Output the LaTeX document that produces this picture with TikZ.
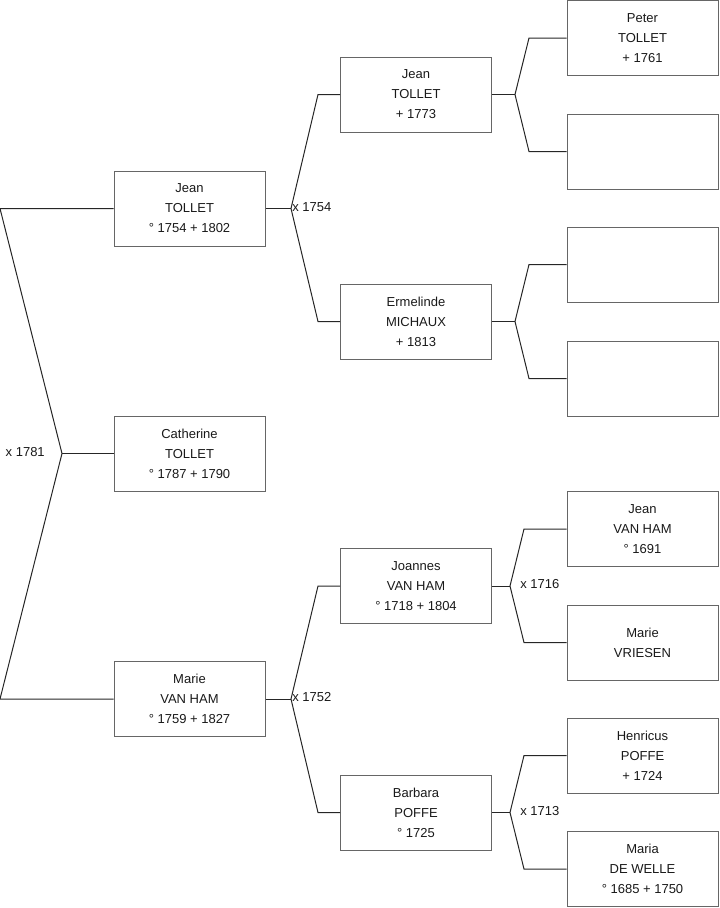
\documentclass[tikz,border=0pt]{standalone}
\usepackage{fontspec}
\setmainfont{Liberation Sans}
\begin{document}
\begin{tikzpicture}[x=0.75pt,y=-0.75pt,
  box/.style={draw=black!60,line width=0.75pt,minimum width=113.25pt,minimum height=56.25pt,inner sep=0pt,align=center,font=\fontsize{9.75}{15}\selectfont,text=black!90},
  conn/.style={draw=black!85,line width=0.75pt},
  lbl/.style={inner sep=0pt,font=\fontsize{9.75}{11}\selectfont,text=black!90}]
\useasboundingbox (0,0) rectangle (719,908);
% left column
\node[box] (jean) at (189.5,208.5) {Jean\\TOLLET\\° 1754 + 1802};
\node[box] (cath) at (189.5,453.5) {Catherine\\TOLLET\\° 1787 + 1790};
\node[box] (marie) at (189.5,699) {Marie\\VAN HAM\\° 1759 + 1827};
% middle column
\node[box] (jt) at (416,94.5) {Jean\\TOLLET\\+ 1773};
\node[box] (erm) at (416,321.5) {Ermelinde\\MICHAUX\\+ 1813};
\node[box] (joa) at (416,586) {Joannes\\VAN HAM\\° 1718 + 1804};
\node[box] (bar) at (416,812.5) {Barbara\\POFFE\\° 1725};
% right column
\node[box] (pet) at (642.5,38) {Peter\\TOLLET\\+ 1761};
\node[box] (e1) at (642.5,151.5) {};
\node[box] (e2) at (642.5,264.5) {};
\node[box] (e3) at (642.5,378.5) {};
\node[box] (jvh) at (642.5,529) {Jean\\VAN HAM\\° 1691};
\node[box] (mvr) at (642.5,642.5) {Marie\\VRIESEN};
\node[box] (hen) at (642.5,755.5) {Henricus\\POFFE\\+ 1724};
\node[box] (mdw) at (642.5,869) {Maria\\DE WELLE\\° 1685 + 1750};
% left fork
\coordinate (L1) at (0,208.5);
\coordinate (L2) at (0,699);
\coordinate (F0) at (62,453.5);
\draw[conn] (jean.west) -- (L1) -- (F0) -- (L2) -- (marie.west);
\draw[conn] (F0) -- (cath.west);
\node[lbl,anchor=east] (x1781) at (45,452) {x 1781};
% fork Jean
\coordinate (F1) at (291,208.5);
\coordinate (F1a) at (318,94.5);
\coordinate (F1b) at (318,321.5);
\draw[conn] (jean.east) -- (F1);
\draw[conn] (jt.west) -- (F1a) -- (F1) -- (F1b) -- (erm.west);
\node[lbl,anchor=west] (x1754) at (292,207) {x 1754};
% fork Marie
\coordinate (F2) at (291,699);
\coordinate (F2a) at (318,586);
\coordinate (F2b) at (318,812.5);
\draw[conn] (marie.east) -- (F2);
\draw[conn] (joa.west) -- (F2a) -- (F2) -- (F2b) -- (bar.west);
\node[lbl,anchor=west] (x1752) at (292,697.5) {x 1752};
% fork Jean Tollet
\coordinate (F3) at (515,94.5);
\coordinate (F3a) at (529,38);
\coordinate (F3b) at (529,151.5);
\draw[conn] (jt.east) -- (F3);
\draw[conn] (pet.west) -- (F3a) -- (F3) -- (F3b) -- (e1.west);
% fork Ermelinde
\coordinate (F4) at (515,321.5);
\coordinate (F4a) at (529,264.5);
\coordinate (F4b) at (529,378.5);
\draw[conn] (erm.east) -- (F4);
\draw[conn] (e2.west) -- (F4a) -- (F4) -- (F4b) -- (e3.west);
% fork Joannes
\coordinate (F5) at (510,586);
\coordinate (F5a) at (524,529);
\coordinate (F5b) at (524,642.5);
\draw[conn] (joa.east) -- (F5);
\draw[conn] (jvh.west) -- (F5a) -- (F5) -- (F5b) -- (mvr.west);
\node[lbl,anchor=west] (x1716) at (520,584.5) {x 1716};
% fork Barbara
\coordinate (F6) at (510,812.5);
\coordinate (F6a) at (524,755.5);
\coordinate (F6b) at (524,869);
\draw[conn] (bar.east) -- (F6);
\draw[conn] (hen.west) -- (F6a) -- (F6) -- (F6b) -- (mdw.west);
\node[lbl,anchor=west] (x1713) at (520,811) {x 1713};
\end{tikzpicture}
\end{document}
